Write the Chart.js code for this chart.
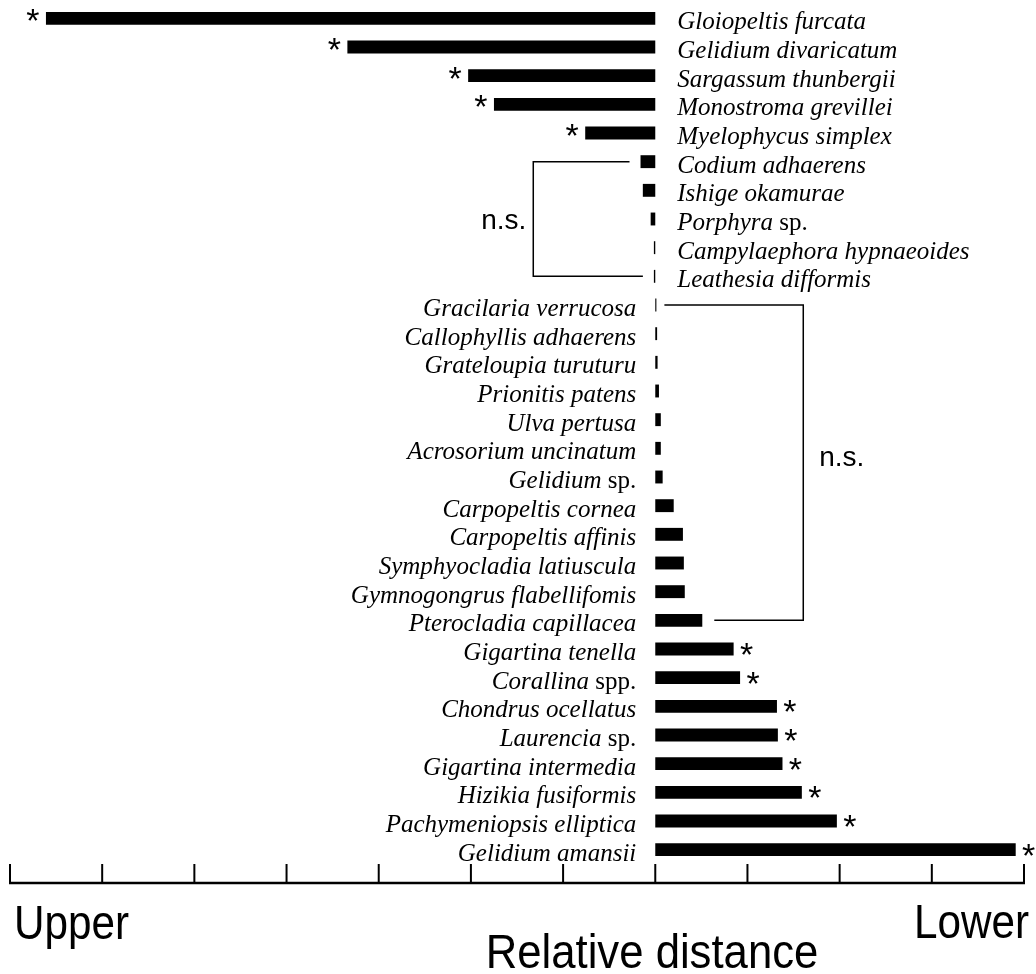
<!DOCTYPE html>
<html>
<head>
<meta charset="utf-8">
<script src="https://cdn.jsdelivr.net/npm/chart.js@4/dist/chart.umd.min.js"></script>
<style>
  html, body { margin: 0; padding: 0; background: #fff; }
  #wrap { width: 1036px; height: 974px; position: relative; }
</style>
</head>
<body>
<div id="wrap"><canvas id="chart"></canvas></div>
<script>
// Species, top to bottom
const species = [
  "Gloiopeltis furcata", "Gelidium divaricatum", "Sargassum thunbergii",
  "Monostroma grevillei", "Myelophycus simplex", "Codium adhaerens",
  "Ishige okamurae", "Porphyra sp.", "Campylaephora hypnaeoides",
  "Leathesia difformis", "Gracilaria verrucosa", "Callophyllis adhaerens",
  "Grateloupia turuturu", "Prionitis patens", "Ulva pertusa",
  "Acrosorium uncinatum", "Gelidium sp.", "Carpopeltis cornea",
  "Carpopeltis affinis", "Symphyocladia latiuscula", "Gymnogongrus flabellifomis",
  "Pterocladia capillacea", "Gigartina tenella", "Corallina spp.",
  "Chondrus ocellatus", "Laurencia sp.", "Gigartina intermedia",
  "Hizikia fusiformis", "Pachymeniopsis elliptica", "Gelidium amansii"
];

// relative distance (negative = upper, positive = lower)
const distance = [
  -6.61, -3.34, -2.03, -1.75, -0.76, -0.16,
  -0.135, -0.05, -0.015, -0.015, 0.012, 0.02,
  0.025, 0.04, 0.06, 0.06, 0.08, 0.20,
  0.30, 0.31, 0.32, 0.51, 0.85, 0.92,
  1.32, 1.33, 1.38, 1.59, 1.97, 3.91
];

// significant difference marks (*)
const significant = [
  true, true, true, true, true, false,
  false, false, false, false, false, false,
  false, false, false, false, false, false,
  false, false, false, false, true, true,
  true, true, true, true, true, true
];

// not-significant groups: [first row, last row]
const nsGroups = [[5, 9], [10, 21]];

const tickValues = [-7, -6, -5, -4, -3, -2, -1, 0, 1, 2, 3, 4];
const endLabels = ["Upper", "Lower"];
const axisTitle = "Relative distance";

const SERIF = '"Liberation Serif", "Times New Roman", serif';
const SANS = '"Liberation Sans", Arial, sans-serif';

function drawLabel(ctx, text, x, y, alignRight) {
  const m = text.match(/^(.*?)( spp?\.)$/);
  const parts = m ? [[m[1], true], [m[2], false]] : [[text, true]];
  const fontFor = (it) => (it ? "italic " : "") + "25px " + SERIF;
  let total = 0;
  parts.forEach(([t, it]) => { ctx.font = fontFor(it); total += ctx.measureText(t).width; });
  let cx = alignRight ? x - total : x;
  ctx.textAlign = "left";
  parts.forEach(([t, it]) => {
    ctx.font = fontFor(it);
    ctx.fillText(t, cx, y);
    cx += ctx.measureText(t).width;
  });
}

function drawSans(ctx, text, x, y, align, size, squeeze) {
  ctx.save();
  ctx.font = size + "px " + SANS;
  const w = ctx.measureText(text).width * squeeze;
  let left = x;
  if (align === "right") left = x - w;
  if (align === "center") left = x - w / 2;
  ctx.translate(left, y);
  ctx.scale(squeeze, 1);
  ctx.textAlign = "left";
  ctx.fillText(text, 0, 0);
  ctx.restore();
}

const annotations = {
  id: "annotations",
  afterDatasetsDraw(chart) {
    const ctx = chart.ctx;
    const xs = chart.scales.x;
    const ys = chart.scales.y;
    const zero = xs.getPixelForValue(0);
    ctx.save();
    ctx.fillStyle = "#000";
    ctx.strokeStyle = "#000";
    ctx.textBaseline = "alphabetic";

    // species labels and asterisks
    species.forEach((name, i) => {
      const yc = ys.getPixelForValue(i);
      const v = distance[i];
      const end = xs.getPixelForValue(v);
      if (v < 0) drawLabel(ctx, name, zero + 22, yc + 11, false);
      else drawLabel(ctx, name, zero - 19, yc + 11, true);
      if (significant[i]) {
        ctx.font = "34px " + SANS;
        ctx.textAlign = "center";
        const ax = v < 0 ? end - 13 : end + 13;
        ctx.fillText("*", ax, yc + (v < 0 ? 14 : 17));
      }
    });

    // n.s. brackets
    ctx.lineWidth = 1.5;
    nsGroups.forEach(([a, b]) => {
      const y1 = ys.getPixelForValue(a);
      const y2 = ys.getPixelForValue(b);
      const upper = distance[a] < 0;
      ctx.beginPath();
      if (upper) {
        const vx = zero - 122;
        const e1 = Math.min(xs.getPixelForValue(distance[a]), zero) - 11;
        const e2 = Math.min(xs.getPixelForValue(distance[b]), zero) - 11;
        ctx.moveTo(e1, y1); ctx.lineTo(vx, y1); ctx.lineTo(vx, y2); ctx.lineTo(e2, y2);
        ctx.stroke();
        drawSans(ctx, "n.s.", vx - 7, (y1 + y2) / 2 + 10, "right", 28, 1);
      } else {
        const vx = zero + 148;
        const e1 = Math.max(xs.getPixelForValue(distance[a]), zero) + 8;
        const e2 = Math.max(xs.getPixelForValue(distance[b]), zero) + 12;
        ctx.moveTo(e1, y1); ctx.lineTo(vx, y1); ctx.lineTo(vx, y2); ctx.lineTo(e2, y2);
        ctx.stroke();
        drawSans(ctx, "n.s.", vx + 16, (y1 + y2) / 2 + 3, "left", 28, 1);
      }
    });

    // bottom axis with upward ticks
    const baseY = 883;
    const left = xs.getPixelForValue(tickValues[0]);
    const right = xs.getPixelForValue(tickValues[tickValues.length - 1]);
    ctx.lineWidth = 2.5;
    ctx.beginPath();
    ctx.moveTo(left - 1, baseY);
    ctx.lineTo(right + 1, baseY);
    ctx.stroke();
    ctx.lineWidth = 2;
    tickValues.forEach((t) => {
      const px = xs.getPixelForValue(t);
      ctx.beginPath();
      ctx.moveTo(px, baseY);
      ctx.lineTo(px, baseY - 19);
      ctx.stroke();
    });

    drawSans(ctx, endLabels[0], 14, 939, "left", 48, 0.88);
    drawSans(ctx, endLabels[1], 1029, 938, "right", 48, 0.88);
    drawSans(ctx, axisTitle, 652, 968, "center", 48, 0.91);
    ctx.restore();
  }
};

new Chart(document.getElementById("chart"), {
  type: "bar",
  data: {
    labels: species,
    datasets: [{
      data: distance,
      backgroundColor: "#000",
      borderWidth: 0,
      categoryPercentage: 1,
      barPercentage: 0.45
    }]
  },
  options: {
    indexAxis: "y",
    responsive: true,
    maintainAspectRatio: false,
    animation: false,
    layout: { padding: { left: 10, right: 12, top: 4, bottom: 110 } },
    plugins: { legend: { display: false }, tooltip: { enabled: false } },
    scales: {
      x: { type: "linear", min: -7, max: 4, display: false },
      y: { type: "category", display: false, offset: true }
    }
  },
  plugins: [annotations]
});
</script>
</body>
</html>
